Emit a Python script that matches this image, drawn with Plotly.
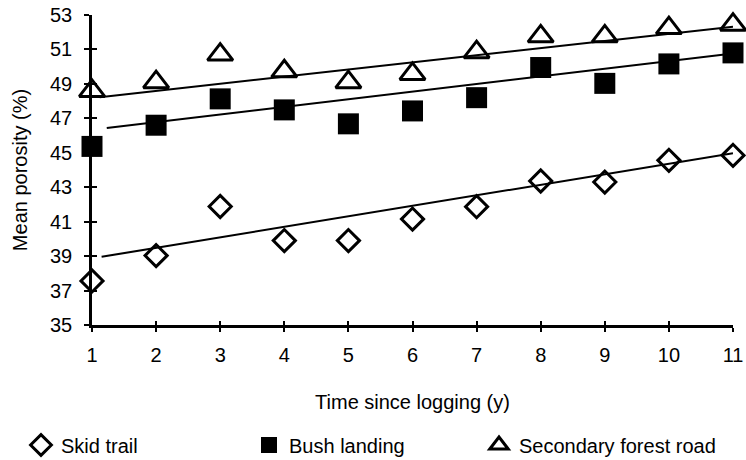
import plotly.graph_objects as go

# ---- data ----
years = [1, 2, 3, 4, 5, 6, 7, 8, 9, 10, 11]
skid_trail = [37.56, 39.03, 41.88, 39.90, 39.90, 41.15, 41.87, 43.36, 43.30, 44.56, 44.85]
bush_landing = [45.37, 46.60, 48.13, 47.49, 46.68, 47.43, 48.20, 49.95, 49.03, 50.16, 50.80]
secondary_road = [48.59, 49.10, 50.70, 49.73, 49.10, 49.58, 50.84, 51.76, 51.76, 52.24, 52.44]

# linear trend lines (end points)
skid_trend_x = [1.15, 11]
skid_trend_y = [38.96, 44.97]
bush_trend_x = [1.23, 11]
bush_trend_y = [46.44, 50.77]
road_trend_x = [1.12, 11]
road_trend_y = [48.23, 52.32]

y_ticks = [35, 37, 39, 41, 43, 45, 47, 49, 51, 53]
x_ticks = years

FONT = "Liberation Sans, Arial, sans-serif"
BLACK = "#000000"

W, H = 746, 460

fig = go.Figure()

fig.add_trace(go.Scatter(
    x=years, y=skid_trail, mode="markers", name="Skid trail", legend="legend",
    cliponaxis=False,
    marker=dict(symbol="diamond", size=17, color="white", line=dict(color=BLACK, width=3)),
))
fig.add_trace(go.Scatter(
    x=years, y=bush_landing, mode="markers", name="Bush landing", legend="legend2",
    cliponaxis=False,
    marker=dict(symbol="square", size=21, color=BLACK, line=dict(color=BLACK, width=0)),
))
fig.add_trace(go.Scatter(
    x=years, y=secondary_road, mode="markers", name="Secondary forest road", legend="legend3",
    cliponaxis=False,
    marker=dict(symbol="triangle-up", size=22, color="white", line=dict(color=BLACK, width=3)),
))

for tx, ty in [(skid_trend_x, skid_trend_y), (bush_trend_x, bush_trend_y), (road_trend_x, road_trend_y)]:
    fig.add_trace(go.Scatter(x=tx, y=ty, mode="lines", showlegend=False, hoverinfo="skip",
                             cliponaxis=False, line=dict(color=BLACK, width=2)))

# invisible trace on overlay axes that draw the inner half of the cross ticks
fig.add_trace(go.Scatter(x=years, y=skid_trail, xaxis="x2", yaxis="y2", mode="markers",
                         marker=dict(opacity=0), showlegend=False, hoverinfo="skip"))

axis_common = dict(showgrid=False, zeroline=False, color=BLACK, automargin=False)

legend_common = dict(xref="container", yref="container", y=1 - 445 / H,
                     xanchor="left", yanchor="middle", orientation="h",
                     font=dict(size=20, family=FONT, color=BLACK), itemwidth=30,
                     bgcolor="rgba(0,0,0,0)")

fig.update_layout(
    width=W, height=H,
    margin=dict(l=92, r=13, t=15, b=135, autoexpand=False),
    paper_bgcolor="white", plot_bgcolor="white",
    font=dict(family=FONT, size=20, color=BLACK),
    hovermode=False,
    xaxis=dict(
        **axis_common, range=[1, 11], tickvals=x_ticks,
        showline=True, linewidth=2.5, linecolor=BLACK,
        ticks="outside", ticklen=4, tickwidth=2, tickcolor=BLACK,
        ticklabelstandoff=6, ticklabeloverflow="allow",
        tickfont=dict(size=20, family=FONT, color=BLACK),
        title=dict(text="Time since logging (y)", standoff=31,
                   font=dict(size=20, family=FONT, color=BLACK)),
    ),
    yaxis=dict(
        **axis_common, range=[35, 53], tickvals=y_ticks,
        showline=True, linewidth=2.5, linecolor=BLACK,
        ticks="outside", ticklen=5, tickwidth=2, tickcolor=BLACK,
        ticklabelstandoff=8, ticklabeloverflow="allow",
        tickfont=dict(size=20, family=FONT, color=BLACK),
        title=dict(text="Mean porosity (%)", standoff=18,
                   font=dict(size=20, family=FONT, color=BLACK)),
    ),
    xaxis2=dict(**axis_common, overlaying="x", matches="x", anchor="y", side="bottom",
                range=[1, 11], tickvals=x_ticks, showticklabels=False, showline=False,
                ticks="inside", ticklen=4, tickwidth=2, tickcolor=BLACK),
    yaxis2=dict(**axis_common, overlaying="y", matches="y", anchor="x", side="left",
                range=[35, 53], tickvals=y_ticks, showticklabels=False, showline=False,
                ticks="inside", ticklen=5, tickwidth=2, tickcolor=BLACK),
    legend=dict(**legend_common, x=21 / W),
    legend2=dict(**legend_common, x=249 / W),
    legend3=dict(**legend_common, x=479 / W),
    showlegend=True,
)

# remove the browser's default 8px body margin so the figure fills the window exactly
fig.write_html("out.html", config={"displayModeBar": False},
               post_script="document.body.style.margin='0';")
